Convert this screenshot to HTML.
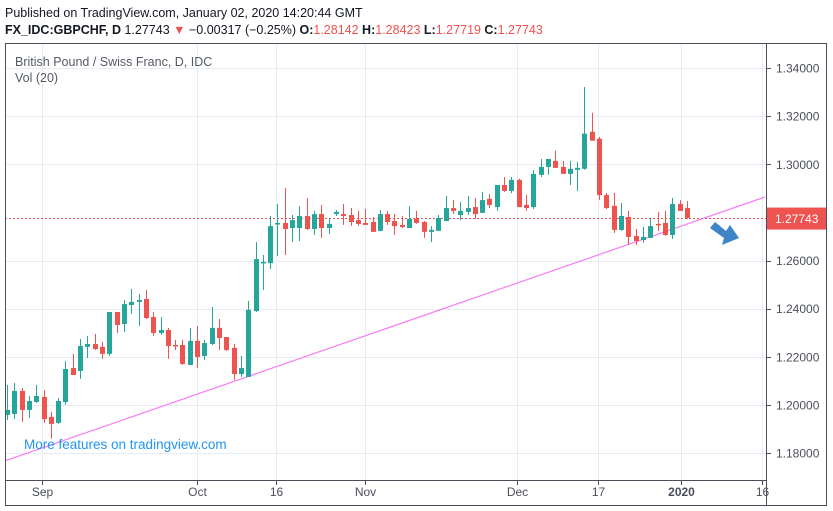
<!DOCTYPE html>
<html><head><meta charset="utf-8"><style>
body{margin:0;background:#fff;font-family:"Liberation Sans",sans-serif;}
svg{display:block}
</style></head><body>
<svg id="c" width="833" height="511" xmlns="http://www.w3.org/2000/svg">
<text x="5" y="17" font-size="12.5" fill="#131722">Published on TradingView.com, January 02, 2020 14:20:44 GMT</text>
<text x="5" y="34" font-size="12.5" fill="#131722"><tspan font-weight="bold">FX_IDC:GBPCHF, D</tspan> 1.27743<tspan fill="#ef5350"> ▼ </tspan>−0.00317 (−0.25%) <tspan font-weight="bold">O:</tspan><tspan fill="#ef5350">1.28142 </tspan><tspan font-weight="bold">H:</tspan><tspan fill="#ef5350">1.28423 </tspan><tspan font-weight="bold">L:</tspan><tspan fill="#ef5350">1.27719 </tspan><tspan font-weight="bold">C:</tspan><tspan fill="#ef5350">1.27743</tspan></text>
<g id="grid"></g>
<g id="plot"></g>
<rect x="5.5" y="43.5" width="821" height="462" fill="none" stroke="#4a4e5a"/>
<line x1="766.5" y1="43" x2="766.5" y2="505" stroke="#4a4e5a"/>
<line x1="5" y1="480.5" x2="766" y2="480.5" stroke="#4a4e5a"/>
<text x="15" y="66" font-size="12.5" fill="#555a66">British Pound / Swiss Franc, D, IDC</text>
<text x="15" y="82" font-size="12.5" fill="#555a66">Vol (20)</text>
<text x="24" y="449" font-size="13.5" fill="#2196f3">More features on tradingview.com</text>
<path d="M710,228 L715,222 L726,231 L730,225 L739,238 L722,245 L724,238 Z" fill="#3d85c6"/>
<g id="axes"></g>
</svg>
<script>
const opens=[1.1958,1.1962,1.2058,1.1979,1.2012,1.2033,1.1950,1.1925,1.2012,1.2153,1.2141,1.2241,1.2253,1.2241,1.2212,1.2386,1.2336,1.2415,1.2428,1.2440,1.2365,1.2299,1.2311,1.2249,1.2249,1.2166,1.2266,1.2203,1.2253,1.2320,1.2282,1.2237,1.2128,1.2116,1.2390,1.2589,1.2589,1.2751,1.2756,1.2735,1.2735,1.2785,1.2731,1.2793,1.2735,1.2793,1.2793,1.2789,1.2768,1.2756,1.2760,1.2723,1.2793,1.2764,1.2748,1.2735,1.2773,1.2760,1.2719,1.2723,1.2764,1.2818,1.2789,1.2802,1.2822,1.2798,1.2856,1.2822,1.2914,1.2889,1.2935,1.2831,1.2822,1.2956,1.2989,1.3014,1.2989,1.2960,1.2977,1.2981,1.3135,1.3106,1.2872,1.2827,1.2727,1.2781,1.2702,1.2685,1.2694,1.2752,1.2756,1.2706,1.2835,1.2818];
const highs=[1.2083,1.2091,1.2070,1.2037,1.2083,1.2062,1.1971,1.2029,1.2182,1.2212,1.2274,1.2286,1.2295,1.2262,1.2386,1.2386,1.2436,1.2482,1.2461,1.2478,1.2386,1.2365,1.2320,1.2270,1.2270,1.2320,1.2328,1.2270,1.2407,1.2357,1.2282,1.2253,1.2203,1.2432,1.2677,1.2623,1.2785,1.2835,1.2901,1.2789,1.2826,1.2859,1.2806,1.2831,1.2777,1.2810,1.2835,1.2818,1.2806,1.2814,1.2781,1.2810,1.2806,1.2793,1.2785,1.2826,1.2806,1.2764,1.2743,1.2789,1.2868,1.2851,1.2843,1.2868,1.2859,1.2885,1.2876,1.2914,1.2947,1.2947,1.2939,1.2872,1.2976,1.3022,1.3022,1.3056,1.3014,1.3014,1.3010,1.3321,1.3214,1.3114,1.2881,1.2881,1.2839,1.2806,1.2731,1.2739,1.2773,1.2802,1.2806,1.2860,1.2851,1.2847];
const lows=[1.1937,1.1941,1.1929,1.1946,1.2008,1.1925,1.1859,1.1921,1.2000,1.2124,1.2108,1.2195,1.2228,1.2191,1.2203,1.2299,1.2303,1.2378,1.2328,1.2357,1.2286,1.2291,1.2191,1.2228,1.2166,1.2166,1.2153,1.2187,1.2249,1.2228,1.2224,1.2103,1.2116,1.2116,1.2386,1.2477,1.2565,1.2619,1.2623,1.2677,1.2681,1.2727,1.2706,1.2694,1.2710,1.2785,1.2748,1.2744,1.2744,1.2748,1.2719,1.2723,1.2748,1.2706,1.2735,1.2735,1.2752,1.2694,1.2677,1.2723,1.2764,1.2793,1.2768,1.2789,1.2773,1.2798,1.2818,1.2806,1.2885,1.2880,1.2822,1.2806,1.2814,1.2947,1.2956,1.2985,1.2960,1.2914,1.2889,1.2977,1.3098,1.2852,1.2814,1.2715,1.2723,1.2665,1.2665,1.2673,1.2694,1.2723,1.2702,1.2690,1.2806,1.2773];
const closes=[1.1979,1.2058,1.1979,1.2016,1.2037,1.1941,1.1921,1.2016,1.2149,1.2124,1.2245,1.2253,1.2232,1.2212,1.2386,1.2332,1.2419,1.2428,1.2436,1.2361,1.2299,1.2311,1.2245,1.2245,1.2170,1.2266,1.2199,1.2257,1.2320,1.2278,1.2228,1.2128,1.2153,1.2395,1.2606,1.2594,1.2743,1.2756,1.2731,1.2768,1.2785,1.2731,1.2793,1.2735,1.2752,1.2802,1.2785,1.2760,1.2752,1.2748,1.2719,1.2793,1.2760,1.2743,1.2739,1.2773,1.2756,1.2719,1.2727,1.2777,1.2818,1.2806,1.2806,1.2818,1.2793,1.2851,1.2831,1.2914,1.2889,1.2935,1.2822,1.2818,1.2960,1.2989,1.3022,1.2985,1.2960,1.2981,1.2985,1.3127,1.3098,1.2872,1.2818,1.2727,1.2785,1.2698,1.2681,1.2698,1.2743,1.2748,1.2706,1.2835,1.2806,1.2777];
const priceTicks=[1.18,1.20,1.22,1.24,1.26,1.30,1.32,1.34];
const timeLabels=["Sep","Oct","16","Nov","Dec","17","2020","16"];
const timeIndex=[4.8,26,36.8,49,69.8,80.8,92.2,103.3];
const lastPrice=1.27743;
const trendStart=[-0.3,1.1767];
const trendEnd=[103.7,1.2864];

const NS="http://www.w3.org/2000/svg";
const y=p=>68+(1.34-p)/0.02*48.125;
const x=i=>7+i*7.31;
function mk(tag,attrs,parent){const e=document.createElementNS(NS,tag);for(const k in attrs)e.setAttribute(k,attrs[k]);parent.appendChild(e);return e;}
const grid=document.getElementById('grid'),plot=document.getElementById('plot'),axes=document.getElementById('axes');
priceTicks.forEach(p=>{
  const l=mk('line',{x1:5,x2:766,y1:Math.round(y(p))+0.5,y2:Math.round(y(p))+0.5,stroke:'#e6ecf2'},grid);
  
  
  const t=mk('line',{x1:766,x2:771,y1:Math.round(y(p))+0.5,y2:Math.round(y(p))+0.5,stroke:'#4a4e5a'},axes);
  
  
  const tx=mk('text',{x:776,y:y(p)+4.5,'font-size':12,fill:'#4a4e5a'},axes);
  tx.textContent=p.toFixed(5);
  
  
});
timeLabels.forEach((s,k)=>{
  const xx=Math.round(x(timeIndex[k]))+0.5;
  const l=mk('line',{x1:xx,x2:xx,y1:43,y2:480,stroke:'#e6ecf2'},grid);
  
  
  const t=mk('line',{x1:xx,x2:xx,y1:480,y2:485,stroke:'#4a4e5a'},axes);
  
  
  const tx=mk('text',{x:xx,y:496,'font-size':12,fill:'#4a4e5a','text-anchor':'middle','font-weight':s==='2020'?'bold':'normal'},axes);
  tx.textContent=s;
  
  
});
const lp=mk('line',{x1:5,x2:766,y1:y(lastPrice),y2:y(lastPrice),stroke:'#ef5350','stroke-dasharray':'2,2'},grid);


const tl=mk('line',{x1:x(trendStart[0]),y1:y(trendStart[1]),x2:x(trendEnd[0]),y2:y(trendEnd[1]),stroke:'#f77cf7','stroke-width':1.2},plot);


for(let i=0;i<opens.length;i++){
  const up=closes[i]>=opens[i];const col=up?'#26a69a':'#ef5350';
  const cx=Math.round(x(i))+0.5;
  const w=mk('line',{x1:cx,x2:cx,y1:y(highs[i]),y2:y(lows[i]),stroke:col},plot);
  
  
  const top=y(Math.max(opens[i],closes[i])),bot=y(Math.min(opens[i],closes[i]));
  const b=mk('rect',{x:cx-2.5,y:top,width:5,height:Math.max(1.5,bot-top),fill:col},plot);
  
  
}
const lb=mk('rect',{x:767,y:y(lastPrice)-11,width:59,height:22,fill:'#ef5350'},axes);


const lt=mk('text',{x:775,y:y(lastPrice)+4.5,'font-size':12,fill:'#fff'},axes);
lt.textContent=lastPrice.toFixed(5);


</script>
</body></html>
